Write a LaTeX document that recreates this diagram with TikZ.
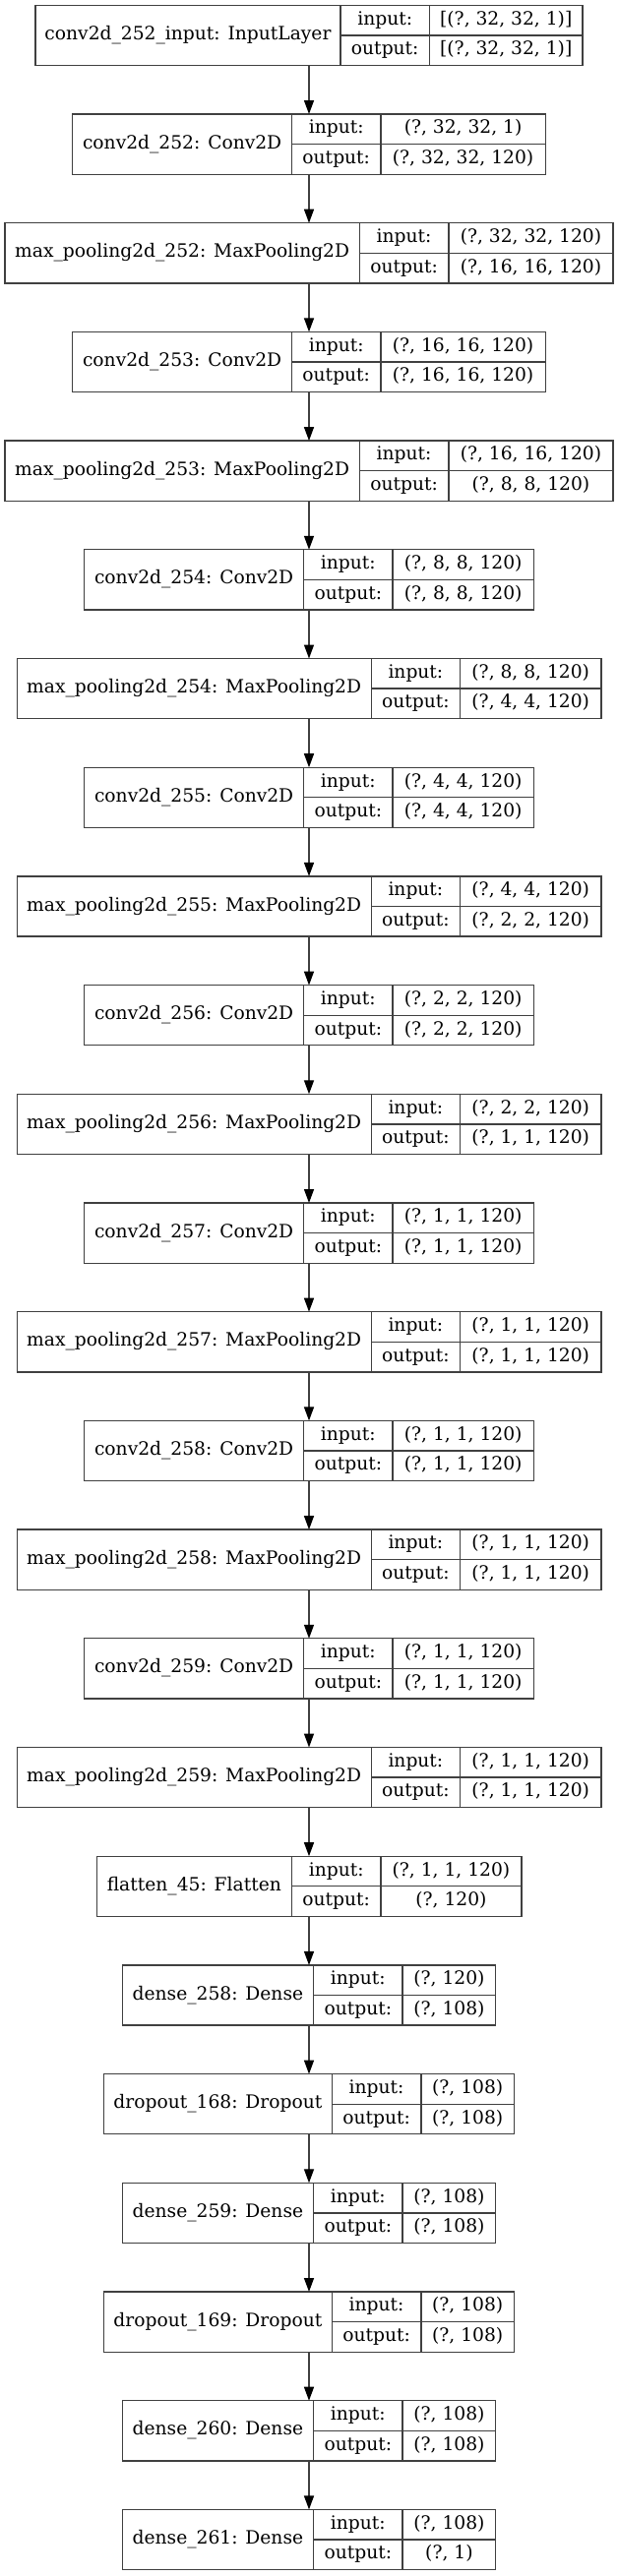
\documentclass[tikz,border=0pt]{standalone}
\usepackage{fontspec}
\setmainfont{DejaVu Serif}
\usepackage{tikz}
\usetikzlibrary{arrows.meta, positioning}
\tikzstyle{record} = [rectangle, inner sep=0pt, outer sep=0pt, minimum height=61.2pt]
\tikzstyle{cell} = [rectangle, draw=black!75, line width=1.3pt, inner sep=0pt, outer sep=0pt, minimum height=30.6pt, text height=13.5pt, text depth=4.5pt, text centered]
\tikzstyle{line} = [draw=black!75, line width=1.3pt, -{Triangle[width=10pt, length=14pt, color=black]}]
% one keras layer: name, row, name width, value width, label, input, output
\newcommand{\layerbox}[7]{%
    \node[record, minimum width={(#3+90.5+#4)*1pt}] (#1) at (314, {-35.9-110.7*#2}) {};
    \node[cell, minimum width=#3pt, minimum height=61.2pt, anchor=north west] (#1-name) at (#1.north west) {#5};
    \node[cell, minimum width=90.5pt, anchor=north west] (#1-in) at (#1-name.north east) {input:};
    \node[cell, minimum width=90.5pt, below=0pt of #1-in] (#1-out) {output:};
    \node[cell, minimum width=#4pt, right=0pt of #1-in] (#1-inval) {#6};
    \node[cell, minimum width=#4pt, right=0pt of #1-out] (#1-outval) {#7};
}

\begin{document}
\begin{tikzpicture}[x=1pt, y=1pt, font=\fontsize{18.67pt}{22pt}\selectfont]
    \useasboundingbox (0,0) rectangle (628,-2619);

    \layerbox{input}{0}{310}{155.5}{conv2d\_252\_input: InputLayer}{[(?, 32, 32, 1)]}{[(?, 32, 32, 1)]}
    \layerbox{conv-252}{1}{222.7}{167.2}{conv2d\_252: Conv2D}{(?, 32, 32, 1)}{(?, 32, 32, 120)}
    \layerbox{pool-252}{2}{360.4}{167.2}{max\_pooling2d\_252: MaxPooling2D}{(?, 32, 32, 120)}{(?, 16, 16, 120)}
    \layerbox{conv-253}{3}{222.7}{167.2}{conv2d\_253: Conv2D}{(?, 16, 16, 120)}{(?, 16, 16, 120)}
    \layerbox{pool-253}{4}{360.4}{167.2}{max\_pooling2d\_253: MaxPooling2D}{(?, 16, 16, 120)}{(?, 8, 8, 120)}
    \layerbox{conv-254}{5}{222.9}{143.2}{conv2d\_254: Conv2D}{(?, 8, 8, 120)}{(?, 8, 8, 120)}
    \layerbox{pool-254}{6}{360}{143.2}{max\_pooling2d\_254: MaxPooling2D}{(?, 8, 8, 120)}{(?, 4, 4, 120)}
    \layerbox{conv-255}{7}{222.9}{143.2}{conv2d\_255: Conv2D}{(?, 4, 4, 120)}{(?, 4, 4, 120)}
    \layerbox{pool-255}{8}{360}{143.2}{max\_pooling2d\_255: MaxPooling2D}{(?, 4, 4, 120)}{(?, 2, 2, 120)}
    \layerbox{conv-256}{9}{222.9}{143.2}{conv2d\_256: Conv2D}{(?, 2, 2, 120)}{(?, 2, 2, 120)}
    \layerbox{pool-256}{10}{360}{143.2}{max\_pooling2d\_256: MaxPooling2D}{(?, 2, 2, 120)}{(?, 1, 1, 120)}
    \layerbox{conv-257}{11}{222.9}{143.2}{conv2d\_257: Conv2D}{(?, 1, 1, 120)}{(?, 1, 1, 120)}
    \layerbox{pool-257}{12}{360}{143.2}{max\_pooling2d\_257: MaxPooling2D}{(?, 1, 1, 120)}{(?, 1, 1, 120)}
    \layerbox{conv-258}{13}{222.9}{143.2}{conv2d\_258: Conv2D}{(?, 1, 1, 120)}{(?, 1, 1, 120)}
    \layerbox{pool-258}{14}{360}{143.2}{max\_pooling2d\_258: MaxPooling2D}{(?, 1, 1, 120)}{(?, 1, 1, 120)}
    \layerbox{conv-259}{15}{222.9}{143.2}{conv2d\_259: Conv2D}{(?, 1, 1, 120)}{(?, 1, 1, 120)}
    \layerbox{pool-259}{16}{360}{143.2}{max\_pooling2d\_259: MaxPooling2D}{(?, 1, 1, 120)}{(?, 1, 1, 120)}
    \layerbox{flatten}{17}{198.3}{142.9}{flatten\_45: Flatten}{(?, 1, 1, 120)}{(?, 120)}
    \layerbox{dense-258}{18}{194.3}{94.7}{dense\_258: Dense}{(?, 120)}{(?, 108)}
    \layerbox{drop-168}{19}{231.9}{94.7}{dropout\_168: Dropout}{(?, 108)}{(?, 108)}
    \layerbox{dense-259}{20}{194.3}{94.7}{dense\_259: Dense}{(?, 108)}{(?, 108)}
    \layerbox{drop-169}{21}{231.9}{94.7}{dropout\_169: Dropout}{(?, 108)}{(?, 108)}
    \layerbox{dense-260}{22}{194.3}{94.7}{dense\_260: Dense}{(?, 108)}{(?, 108)}
    \layerbox{dense-261}{23}{194.3}{94.7}{dense\_261: Dense}{(?, 108)}{(?, 1)}

    \foreach \a/\b in {input/conv-252, conv-252/pool-252, pool-252/conv-253, conv-253/pool-253,
        pool-253/conv-254, conv-254/pool-254, pool-254/conv-255, conv-255/pool-255,
        pool-255/conv-256, conv-256/pool-256, pool-256/conv-257, conv-257/pool-257,
        pool-257/conv-258, conv-258/pool-258, pool-258/conv-259, conv-259/pool-259,
        pool-259/flatten, flatten/dense-258, dense-258/drop-168, drop-168/dense-259,
        dense-259/drop-169, drop-169/dense-260, dense-260/dense-261}
        \draw[line] (\a.south) -- (\b.north);
\end{tikzpicture}
\end{document}
